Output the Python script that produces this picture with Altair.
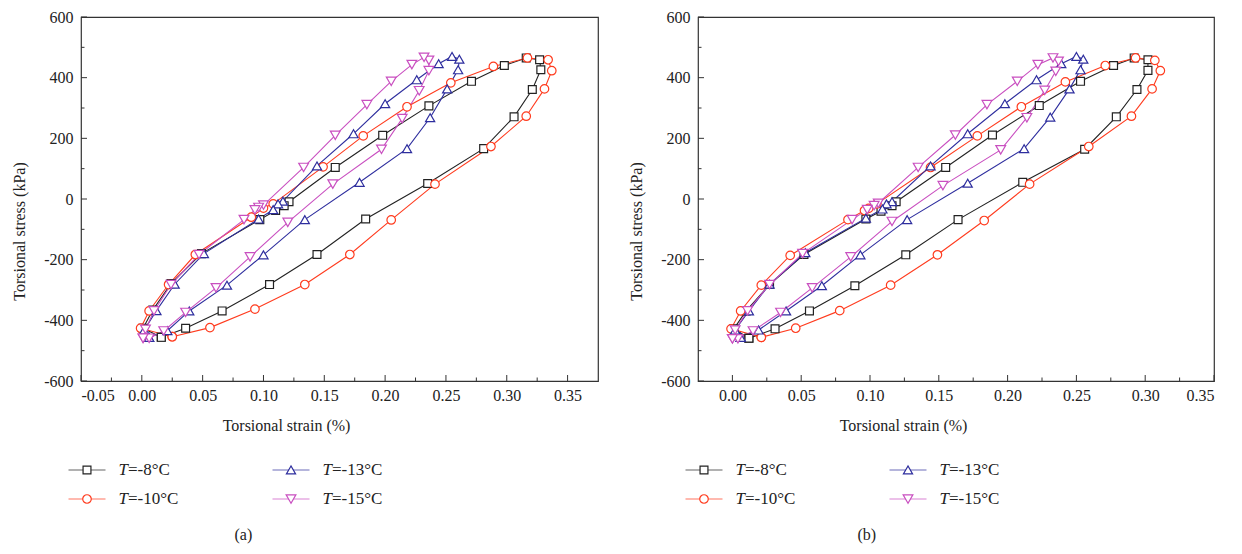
import altair as alt
import pandas as pd

FONT = "Liberation Serif"
TXT = "#222222"

SERIES = ["-8", "-10", "-13", "-15"]
COLORS = ["#222222", "#ff3b1e", "#2e2e9e", "#c94fc0"]
SHAPES = ["square", "circle", "triangle-up", "triangle-down"]
SIZES = [62, 95, 80, 80]

# ---- panel (a) ----
A8_x = [0.016, 0.036, 0.066, 0.105, 0.144, 0.184, 0.235, 0.281, 0.306, 0.321, 0.328, 0.327, 0.316, 0.298, 0.271, 0.236, 0.198, 0.159, 0.121, 0.117, 0.110, 0.097, 0.049, 0.024, 0.009, 0.001, 0.016]
A8_y = [-456, -426, -369, -282, -183, -66, 51, 166, 271, 361, 426, 459, 465, 440, 388, 307, 210, 104, -9, -22, -38, -68, -180, -279, -366, -426, -456]
A10_x = [0.025, 0.056, 0.093, 0.134, 0.171, 0.205, 0.241, 0.287, 0.316, 0.331, 0.337, 0.334, 0.317, 0.289, 0.254, 0.218, 0.182, 0.149, 0.108, 0.100, 0.090, 0.044, 0.022, 0.006, -0.001, 0.025]
A10_y = [-454, -424, -363, -282, -183, -69, 49, 173, 273, 363, 423, 459, 465, 437, 383, 304, 208, 106, -16, -30, -60, -183, -282, -369, -426, -454]
A13_x = [0.006, 0.021, 0.039, 0.070, 0.100, 0.134, 0.179, 0.218, 0.237, 0.251, 0.260, 0.261, 0.255, 0.244, 0.226, 0.200, 0.174, 0.144, 0.116, 0.112, 0.108, 0.096, 0.051, 0.027, 0.012, 0.002, 0.006]
A13_y = [-456, -434, -369, -284, -184, -68, 55, 166, 268, 363, 426, 461, 470, 446, 393, 314, 215, 109, -7, -16, -35, -66, -180, -281, -368, -432, -456]
A15_x = [0.001, 0.006, 0.018, 0.036, 0.061, 0.089, 0.120, 0.157, 0.197, 0.214, 0.228, 0.236, 0.236, 0.232, 0.222, 0.205, 0.185, 0.159, 0.133, 0.100, 0.096, 0.093, 0.084, 0.047, 0.024, 0.010, 0.003, 0.001]
A15_y = [-459, -459, -435, -374, -293, -191, -77, 49, 164, 265, 357, 423, 457, 467, 443, 388, 311, 210, 104, -20, -28, -36, -68, -183, -282, -369, -430, -459]

# ---- panel (b) ----
B8_x = [0.012, 0.031, 0.056, 0.089, 0.126, 0.164, 0.211, 0.256, 0.279, 0.294, 0.302, 0.302, 0.292, 0.277, 0.253, 0.223, 0.189, 0.155, 0.119, 0.116, 0.108, 0.097, 0.052, 0.027, 0.010, 0.001, 0.012]
B8_y = [-459, -428, -369, -286, -184, -68, 55, 164, 271, 361, 424, 459, 465, 440, 388, 308, 211, 104, -9, -22, -40, -66, -183, -282, -369, -428, -459]
B10_x = [0.021, 0.046, 0.078, 0.115, 0.149, 0.183, 0.216, 0.259, 0.290, 0.305, 0.311, 0.307, 0.293, 0.271, 0.242, 0.210, 0.178, 0.144, 0.105, 0.099, 0.096, 0.084, 0.042, 0.021, 0.006, -0.001, 0.021]
B10_y = [-456, -426, -368, -284, -184, -71, 49, 173, 273, 363, 423, 457, 465, 440, 386, 304, 208, 104, -16, -31, -38, -68, -186, -284, -369, -428, -456]
B13_x = [0.006, 0.019, 0.039, 0.065, 0.093, 0.127, 0.171, 0.212, 0.231, 0.245, 0.253, 0.255, 0.250, 0.239, 0.221, 0.198, 0.171, 0.144, 0.116, 0.112, 0.109, 0.097, 0.053, 0.027, 0.012, 0.002, 0.006]
B13_y = [-456, -432, -369, -286, -184, -68, 52, 166, 270, 363, 426, 461, 470, 446, 393, 314, 215, 109, -9, -16, -33, -63, -177, -281, -369, -432, -456]
B15_x = [0.000, 0.004, 0.015, 0.035, 0.058, 0.086, 0.116, 0.153, 0.195, 0.214, 0.227, 0.235, 0.237, 0.233, 0.222, 0.207, 0.185, 0.162, 0.135, 0.106, 0.103, 0.098, 0.087, 0.051, 0.027, 0.011, 0.002, 0.000]
B15_y = [-461, -461, -435, -374, -293, -191, -74, 44, 162, 268, 358, 421, 454, 465, 443, 388, 311, 211, 104, -14, -22, -35, -68, -180, -282, -369, -432, -461]

# ---- axes ----
Y_DOMAIN = [-600, 600]
Y_LABELS = [-600, -400, -200, 0, 200, 400, 600]
Y_MINOR = [-500, -300, -100, 100, 300, 500]
A_X_DOMAIN = [-0.05, 0.375]
A_X_LABELS = [-0.05, 0.0, 0.05, 0.10, 0.15, 0.20, 0.25, 0.30, 0.35]
A_X_MINOR = [-0.025, 0.025, 0.075, 0.125, 0.175, 0.225, 0.275, 0.325]
B_X_DOMAIN = [-0.025, 0.35]
B_X_LABELS = [0.0, 0.05, 0.10, 0.15, 0.20, 0.25, 0.30, 0.35]
B_X_MINOR = [0.025, 0.075, 0.125, 0.175, 0.225, 0.275, 0.325]

X_TITLE = "Torsional strain (%)"
Y_TITLE = "Torsional stress (kPa)"

W_A, W_B, H = 517, 516, 364

color_scale = alt.Scale(domain=SERIES, range=COLORS)
shape_scale = alt.Scale(domain=SERIES, range=SHAPES)
size_scale = alt.Scale(domain=SERIES, range=SIZES)


def make_df(xs_list, ys_list):
    rows = []
    for s, xs, ys in zip(SERIES, xs_list, ys_list):
        for i, (x, y) in enumerate(zip(xs, ys)):
            rows.append({"T": s, "i": i, "strain": x, "stress": y})
    return pd.DataFrame(rows)


def panel(df, xdom, xlabels, xminor, width):
    xs = alt.Scale(domain=xdom, nice=False, zero=False)
    ys = alt.Scale(domain=Y_DOMAIN, nice=False, zero=False)
    xaxis = alt.Axis(values=xlabels, format=".2f",
                     labelExpr="replace(datum.label, '\u2212', '-')",
                     ticks=False, domain=False, grid=False, labelPadding=6,
                     title=X_TITLE, titleX=205, titleY=44, titleBaseline="middle",
                     titleAnchor="middle")
    yaxis = alt.Axis(values=Y_LABELS, format="d",
                     labelExpr="replace(datum.label, '\u2212', '-')",
                     ticks=False, domain=False, grid=False, labelPadding=8,
                     title=Y_TITLE, titleX=-62, titleY=214, titleBaseline="middle",
                     titleAnchor="middle")
    base = alt.Chart(df)
    X = alt.X("strain:Q", scale=xs, axis=xaxis)
    Y = alt.Y("stress:Q", scale=ys, axis=yaxis)
    lines = base.mark_line(strokeWidth=1.1).encode(
        x=X, y=Y,
        color=alt.Color("T:N", scale=color_scale, legend=None),
        detail="T:N",
        order=alt.Order("i:Q"),
    )
    points = base.mark_point(strokeWidth=1.2, opacity=1).encode(
        x=X, y=Y,
        stroke=alt.Stroke("T:N", scale=color_scale, legend=None),
        shape=alt.Shape("T:N", scale=shape_scale, legend=None),
        size=alt.Size("T:N", scale=size_scale, legend=None),
        fill=alt.value("white"),
    )
    xmaj = alt.Chart(pd.DataFrame({"strain": xlabels})).mark_rule(color="#333", strokeWidth=1).encode(
        x=X, y=alt.value(H), y2=alt.value(H - 6))
    xmin = alt.Chart(pd.DataFrame({"strain": xminor})).mark_rule(color="#333", strokeWidth=1).encode(
        x=X, y=alt.value(H), y2=alt.value(H - 3.5))
    ymaj = alt.Chart(pd.DataFrame({"stress": Y_LABELS})).mark_rule(color="#333", strokeWidth=1).encode(
        y=Y, x=alt.value(0), x2=alt.value(6))
    ymin = alt.Chart(pd.DataFrame({"stress": Y_MINOR})).mark_rule(color="#333", strokeWidth=1).encode(
        y=Y, x=alt.value(0), x2=alt.value(3.5))
    return alt.layer(xmaj, xmin, ymaj, ymin, lines, points).properties(
        width=width, height=H,
        view=alt.ViewBackground(stroke="#333333", strokeWidth=1.2),
    )


def legend(width, caption, cap_dx):
    ldf = pd.DataFrame({
        "T": SERIES,
        "sym": ["T"] * len(SERIES),
        "label": ["=" + s + "\u00b0C" for s in SERIES],
        "col": [0, 0, 1, 1],
        "row": [0, 1, 0, 1],
    })
    LX = alt.X("col:Q", scale=alt.Scale(domain=[0, 1], range=[6, 210]), axis=None)
    LY = alt.Y("row:Q", scale=alt.Scale(domain=[0, 1], range=[29, 58]), axis=None)
    base = alt.Chart(ldf)
    seg = base.mark_tick(orient="horizontal", size=37, thickness=1.2).encode(
        x=LX, y=LY, color=alt.Color("T:N", scale=color_scale, legend=None))
    sym = base.mark_point(strokeWidth=1.2, opacity=1).encode(
        x=LX, y=LY,
        stroke=alt.Stroke("T:N", scale=color_scale, legend=None),
        shape=alt.Shape("T:N", scale=shape_scale, legend=None),
        size=alt.Size("T:N", scale=size_scale, legend=None),
        fill=alt.value("white"))
    t1 = base.mark_text(align="left", baseline="middle", dx=31.5, font=FONT, fontSize=17,
                        fontStyle="italic", color=TXT).encode(x=LX, y=LY, text="sym:N")
    t2 = base.mark_text(align="left", baseline="middle", dx=41, font=FONT, fontSize=17,
                        color=TXT).encode(x=LX, y=LY, text="label:N")
    return alt.layer(seg, sym, t1, t2).properties(
        width=width, height=75,
        view=alt.ViewBackground(stroke="transparent"),
        title=alt.TitleParams(caption, orient="bottom", anchor="start", dx=cap_dx,
                              font=FONT, fontSize=16, fontWeight="normal", color=TXT, offset=11),
    )


dfa = make_df([A8_x, A10_x, A13_x, A15_x], [A8_y, A10_y, A13_y, A15_y])
dfb = make_df([B8_x, B10_x, B13_x, B15_x], [B8_y, B10_y, B13_y, B15_y])

pa = panel(dfa, A_X_DOMAIN, A_X_LABELS, A_X_MINOR, W_A)
pb = panel(dfb, B_X_DOMAIN, B_X_LABELS, B_X_MINOR, W_B)
la = legend(W_A, "(a)", 166)
lb = legend(W_B, "(b)", 172)

chart = alt.concat(pa, pb, la, lb, columns=2, bounds="flush",
                   spacing={"row": 60, "column": 100}).properties(
    padding={"left": 2, "top": 0, "right": 5, "bottom": 2}
).configure_axis(
    labelFont=FONT, labelFontSize=16, labelColor=TXT,
    titleFont=FONT, titleFontSize=16, titleColor=TXT, titleFontWeight="normal",
).configure_view(stroke="#333333")

chart.save("out.html", embed_options={"renderer": "svg", "actions": False})
